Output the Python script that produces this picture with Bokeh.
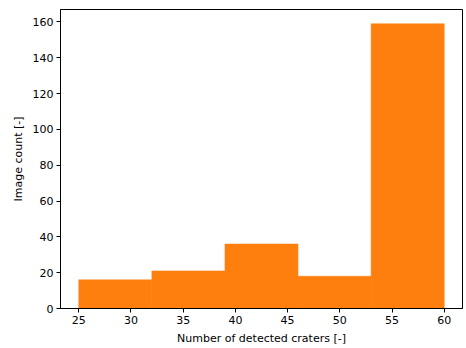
from bokeh.plotting import figure
from bokeh.models import FixedTicker, Range1d
from bokeh.embed import file_html
from bokeh.resources import INLINE

bin_edges = [25, 32, 39, 46, 53, 60]
counts = [16, 21, 36, 18, 159]
x_ticks = [25, 30, 35, 40, 45, 50, 55, 60]
y_ticks = [0, 20, 40, 60, 80, 100, 120, 140, 160]

p = figure(frame_width=402, frame_height=299, output_backend="svg",
           toolbar_location=None,
           x_range=Range1d(23.25, 61.75), y_range=Range1d(0, 166.95),
           min_border_left=60, min_border_right=4, min_border_top=9, min_border_bottom=40)

p.quad(left=bin_edges[:-1], right=bin_edges[1:], bottom=0, top=counts,
       fill_color="#ff7f0e", line_color="#ff7f0e", line_width=0.5)

p.xgrid.visible = False
p.ygrid.visible = False
p.outline_line_color = "black"
p.outline_line_width = 1
p.outline_line_alpha = 1

for ax, ticks, label in ((p.xaxis[0], x_ticks, "Number of detected craters [-]"),
                         (p.yaxis[0], y_ticks, "Image count [-]")):
    ax.ticker = FixedTicker(ticks=ticks)
    ax.axis_label = label
    ax.axis_label_text_font = "DejaVu Sans"
    ax.axis_label_text_font_size = "11px"
    ax.axis_label_text_font_style = "normal"
    ax.axis_label_text_color = "black"
    ax.major_label_text_font = "DejaVu Sans"
    ax.major_label_text_font_size = "11px"
    ax.major_label_text_color = "black"
    ax.major_tick_out = 4
    ax.major_tick_in = 0
    ax.minor_tick_out = 0
    ax.minor_tick_in = 0
    ax.axis_line_color = "black"
    ax.major_tick_line_color = "black"
    ax.major_label_standoff = 3
    ax.axis_label_standoff = 5

open("out.html", "w").write(file_html(p, INLINE))
